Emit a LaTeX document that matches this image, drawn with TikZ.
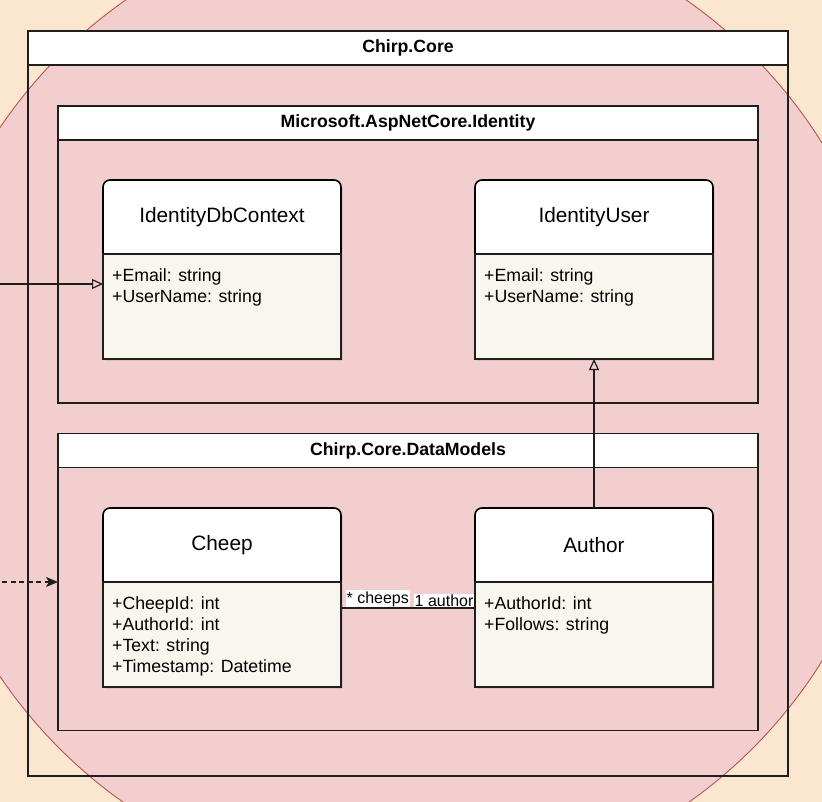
\documentclass[tikz,border=0pt]{standalone}
\usepackage{fontspec}
\setmainfont{Liberation Sans}
\usetikzlibrary{arrows.meta,positioning,backgrounds,shadows}
\definecolor{chbg}{RGB}{251,230,208}
\definecolor{chzone}{RGB}{242,207,206}
\definecolor{chzoneedge}{RGB}{184,84,80}
\definecolor{chedge}{RGB}{30,30,30}
\definecolor{chbody}{RGB}{249,247,237}
\tikzset{
  zone/.style={fill=chzone, draw=chzoneedge, line width=0.9pt},
  pkghead/.style={
    draw=chedge, fill=white, line width=1.2pt, outer sep=0pt, inner sep=0pt,
    minimum height=34pt, font=\bfseries\fontsize{17.7}{20}\selectfont
  },
  pkgbody/.style={draw=chedge, line width=1.2pt, outer sep=0pt, inner sep=0pt},
  clshead/.style={
    minimum width=238pt, minimum height=74pt, inner sep=0pt, outer sep=0pt,
    font=\fontsize{20.8}{25}\selectfont
  },
  clsframe/.style={
    draw=black, fill=white, line width=1.6pt, rounded corners=7pt,
    drop shadow={opacity=0.2, shadow xshift=1.5pt, shadow yshift=-1.5pt}
  },
  clsbody/.style={
    draw=chedge, fill=chbody, line width=1.5pt, outer sep=0pt, inner sep=0pt,
    minimum width=238pt, minimum height=105pt,
    drop shadow={opacity=0.2, shadow xshift=1.5pt, shadow yshift=-1.5pt}
  },
  fields/.style={anchor=north west, inner sep=0pt, align=left, font=\fontsize{17.7}{21.2}\selectfont},
  inh/.style={-{Triangle[open, length=11pt, width=10pt]}, draw=chedge, line width=1.2pt},
  dep/.style={-{Stealth[length=12pt, width=10pt, inset=3pt]}, draw=chedge, line width=1.2pt,
    dash pattern=on 5pt off 3.5pt},
  assoc/.style={draw=chedge, line width=1.2pt},
  role/.style={fill=white, inner sep=1pt, font=\fontsize{16}{18}\selectfont}
}
\begin{document}
\begin{tikzpicture}[x=1pt, y=-1pt, node distance=0pt]
  \useasboundingbox (0,0) rectangle (822,802);
  % backdrop
  \begin{pgfonlayer}{background}
    \fill[chbg] (0,0) rectangle (822,802);
    \begin{scope}
      \clip (0,0) rectangle (822,802);
      \draw[zone] (406,402) circle[radius=490pt];
    \end{scope}
  \end{pgfonlayer}

  % packages
  \node[pkghead, minimum width=760pt] (core) at (408,48) {Chirp.Core};
  \node[pkgbody, minimum width=760pt, minimum height=711pt, below=of core] (coreb) {};
  \node[pkghead, minimum width=700pt] (ident) at (408,123) {Microsoft.AspNetCore.Identity};
  \node[pkgbody, minimum width=700pt, minimum height=263pt, below=of ident] (identb) {};
  \node[pkghead, minimum width=700pt] (dm) at (408,450.5) {Chirp.Core.DataModels};
  \node[pkgbody, minimum width=700pt, minimum height=263pt, below=of dm] (dmb) {};

  % classes
  \node[clshead] (ctx) at (222,217) {IdentityDbContext};
  \node[clsbody, below=of ctx] (ctxb) {};
  \node[fields, below right=14pt and 9pt of ctxb.north west] (ctxf) {+Email: string\\+UserName: string};

  \node[clshead] (user) at (594,217) {IdentityUser};
  \node[clsbody, below=of user] (userb) {};
  \node[fields, below right=14pt and 9pt of userb.north west] (userf) {+Email: string\\+UserName: string};

  \node[clshead] (cheep) at (222,545) {Cheep};
  \node[clsbody, below=of cheep] (cheepb) {};
  \node[fields, below right=14pt and 9pt of cheepb.north west] (cheepf)
    {+CheepId: int\\+AuthorId: int\\+Text: string\\+Timestamp: Datetime};

  \node[clshead] (auth) at (594,545) {Author};
  \node[clsbody, below=of auth] (authb) {};
  \node[fields, below right=14pt and 9pt of authb.north west] (authf) {+AuthorId: int\\+Follows: string};

  \begin{pgfonlayer}{background}
    \foreach \c in {ctx,user,cheep,auth}
      \draw[clsframe] (\c.south west) -- (\c.north west) -- (\c.north east) -- (\c.south east);
  \end{pgfonlayer}

  % connectors
  \coordinate (ext1) at (0,284);
  \coordinate (ext2) at (2,582);
  \coordinate (asc) at (408,608);
  \draw[inh] (ext1) -- (ext1 -| ctxb.west);
  \draw[dep] (ext2) -- (ext2 -| dmb.west);
  \draw[inh] (auth.north) -- (userb.south);
  \draw[assoc] (asc -| cheepb.east)
    -- node[role, pos=0, anchor=south west, xshift=4pt] {* cheeps}
       node[role, pos=1, anchor=south east] {1 author} (asc -| authb.west);
\end{tikzpicture}
\end{document}
